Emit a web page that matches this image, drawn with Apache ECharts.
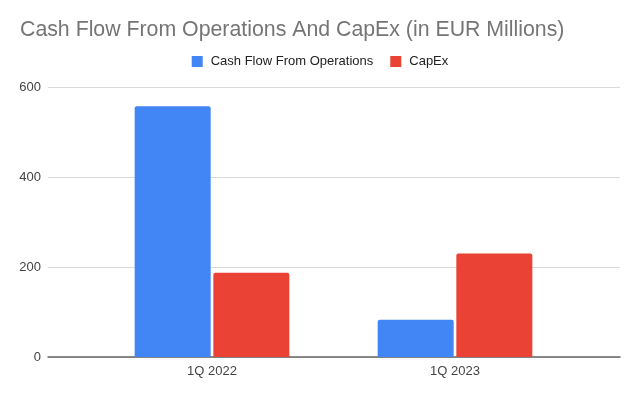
<!DOCTYPE html>
<html>
<head>
<meta charset="utf-8">
<script src="https://cdn.jsdelivr.net/npm/echarts@6/dist/echarts.min.js"></script>
<style>
  html, body { margin: 0; padding: 0; background: #fff; }
  #chart { width: 640px; height: 396px; }
</style>
</head>
<body>
<div id="chart"></div>
<script>
const categories = ['1Q 2022', '1Q 2023']
const cashFlowOps = [557, 83]
const capEx = [187, 230]
const yTicks = { min: 0, max: 600, interval: 200 }

const font = '"Liberation Sans", Arial, sans-serif'
const chart = echarts.init(document.getElementById('chart'))

const barStyle = color => ({
    color,
    borderRadius: [2, 2, 0, 0]
})

chart.setOption({
    animation: false,
    textStyle: { fontFamily: font },
    title: {
        text: 'Cash Flow From Operations And CapEx (in EUR Millions)',
        left: 15,
        top: 15,
        textStyle: { fontFamily: font, fontSize: 21.3, fontWeight: 'normal', color: '#757575' }
    },
    legend: {
        top: 50,
        left: 'center',
        itemWidth: 11,
        itemHeight: 11,
        itemGap: 17,
        icon: 'rect',
        textStyle: { fontFamily: font, fontSize: 13, color: '#222', padding: [0, 0, 0, 3] },
        data: ['Cash Flow From Operations', 'CapEx']
    },
    grid: [
        // grid with full-width gridlines
        { left: 48, right: 20, top: 87, bottom: 39 },
        // grid for the bar groups (Sheets places groups inside the plot)
        { left: 90.5, right: 63.5, top: 87, bottom: 39 }
    ],
    xAxis: [
        {
            gridIndex: 0,
            type: 'category',
            data: [''],
            axisLine: { lineStyle: { color: '#666', width: 1.5 } },
            axisTick: { show: false },
            axisLabel: { show: false }
        },
        {
            gridIndex: 1,
            type: 'category',
            data: categories,
            axisLine: { show: false },
            axisTick: { show: false },
            axisLabel: { fontFamily: font, fontSize: 13, color: '#444', margin: 8 }
        }
    ],
    yAxis: [
        {
            gridIndex: 0,
            type: 'value',
            min: yTicks.min,
            max: yTicks.max,
            interval: yTicks.interval,
            axisLine: { show: false },
            axisTick: { show: false },
            axisLabel: { fontFamily: font, fontSize: 13, color: '#444', margin: 7 },
            splitLine: { lineStyle: { color: '#d9d9d9', width: 1 } }
        },
        {
            gridIndex: 1,
            type: 'value',
            min: yTicks.min,
            max: yTicks.max,
            interval: yTicks.interval,
            show: false
        }
    ],
    series: [
        {
            name: 'Cash Flow From Operations',
            type: 'bar',
            xAxisIndex: 1,
            yAxisIndex: 1,
            data: cashFlowOps,
            barWidth: 76,
            barGap: '3.5%',
            itemStyle: barStyle('#4285F4'),
            z: 1
        },
        {
            name: 'CapEx',
            type: 'bar',
            xAxisIndex: 1,
            yAxisIndex: 1,
            data: capEx,
            barWidth: 76,
            barGap: '3.5%',
            itemStyle: barStyle('#EA4335'),
            z: 1
        }
    ]
})
</script>
</body>
</html>
